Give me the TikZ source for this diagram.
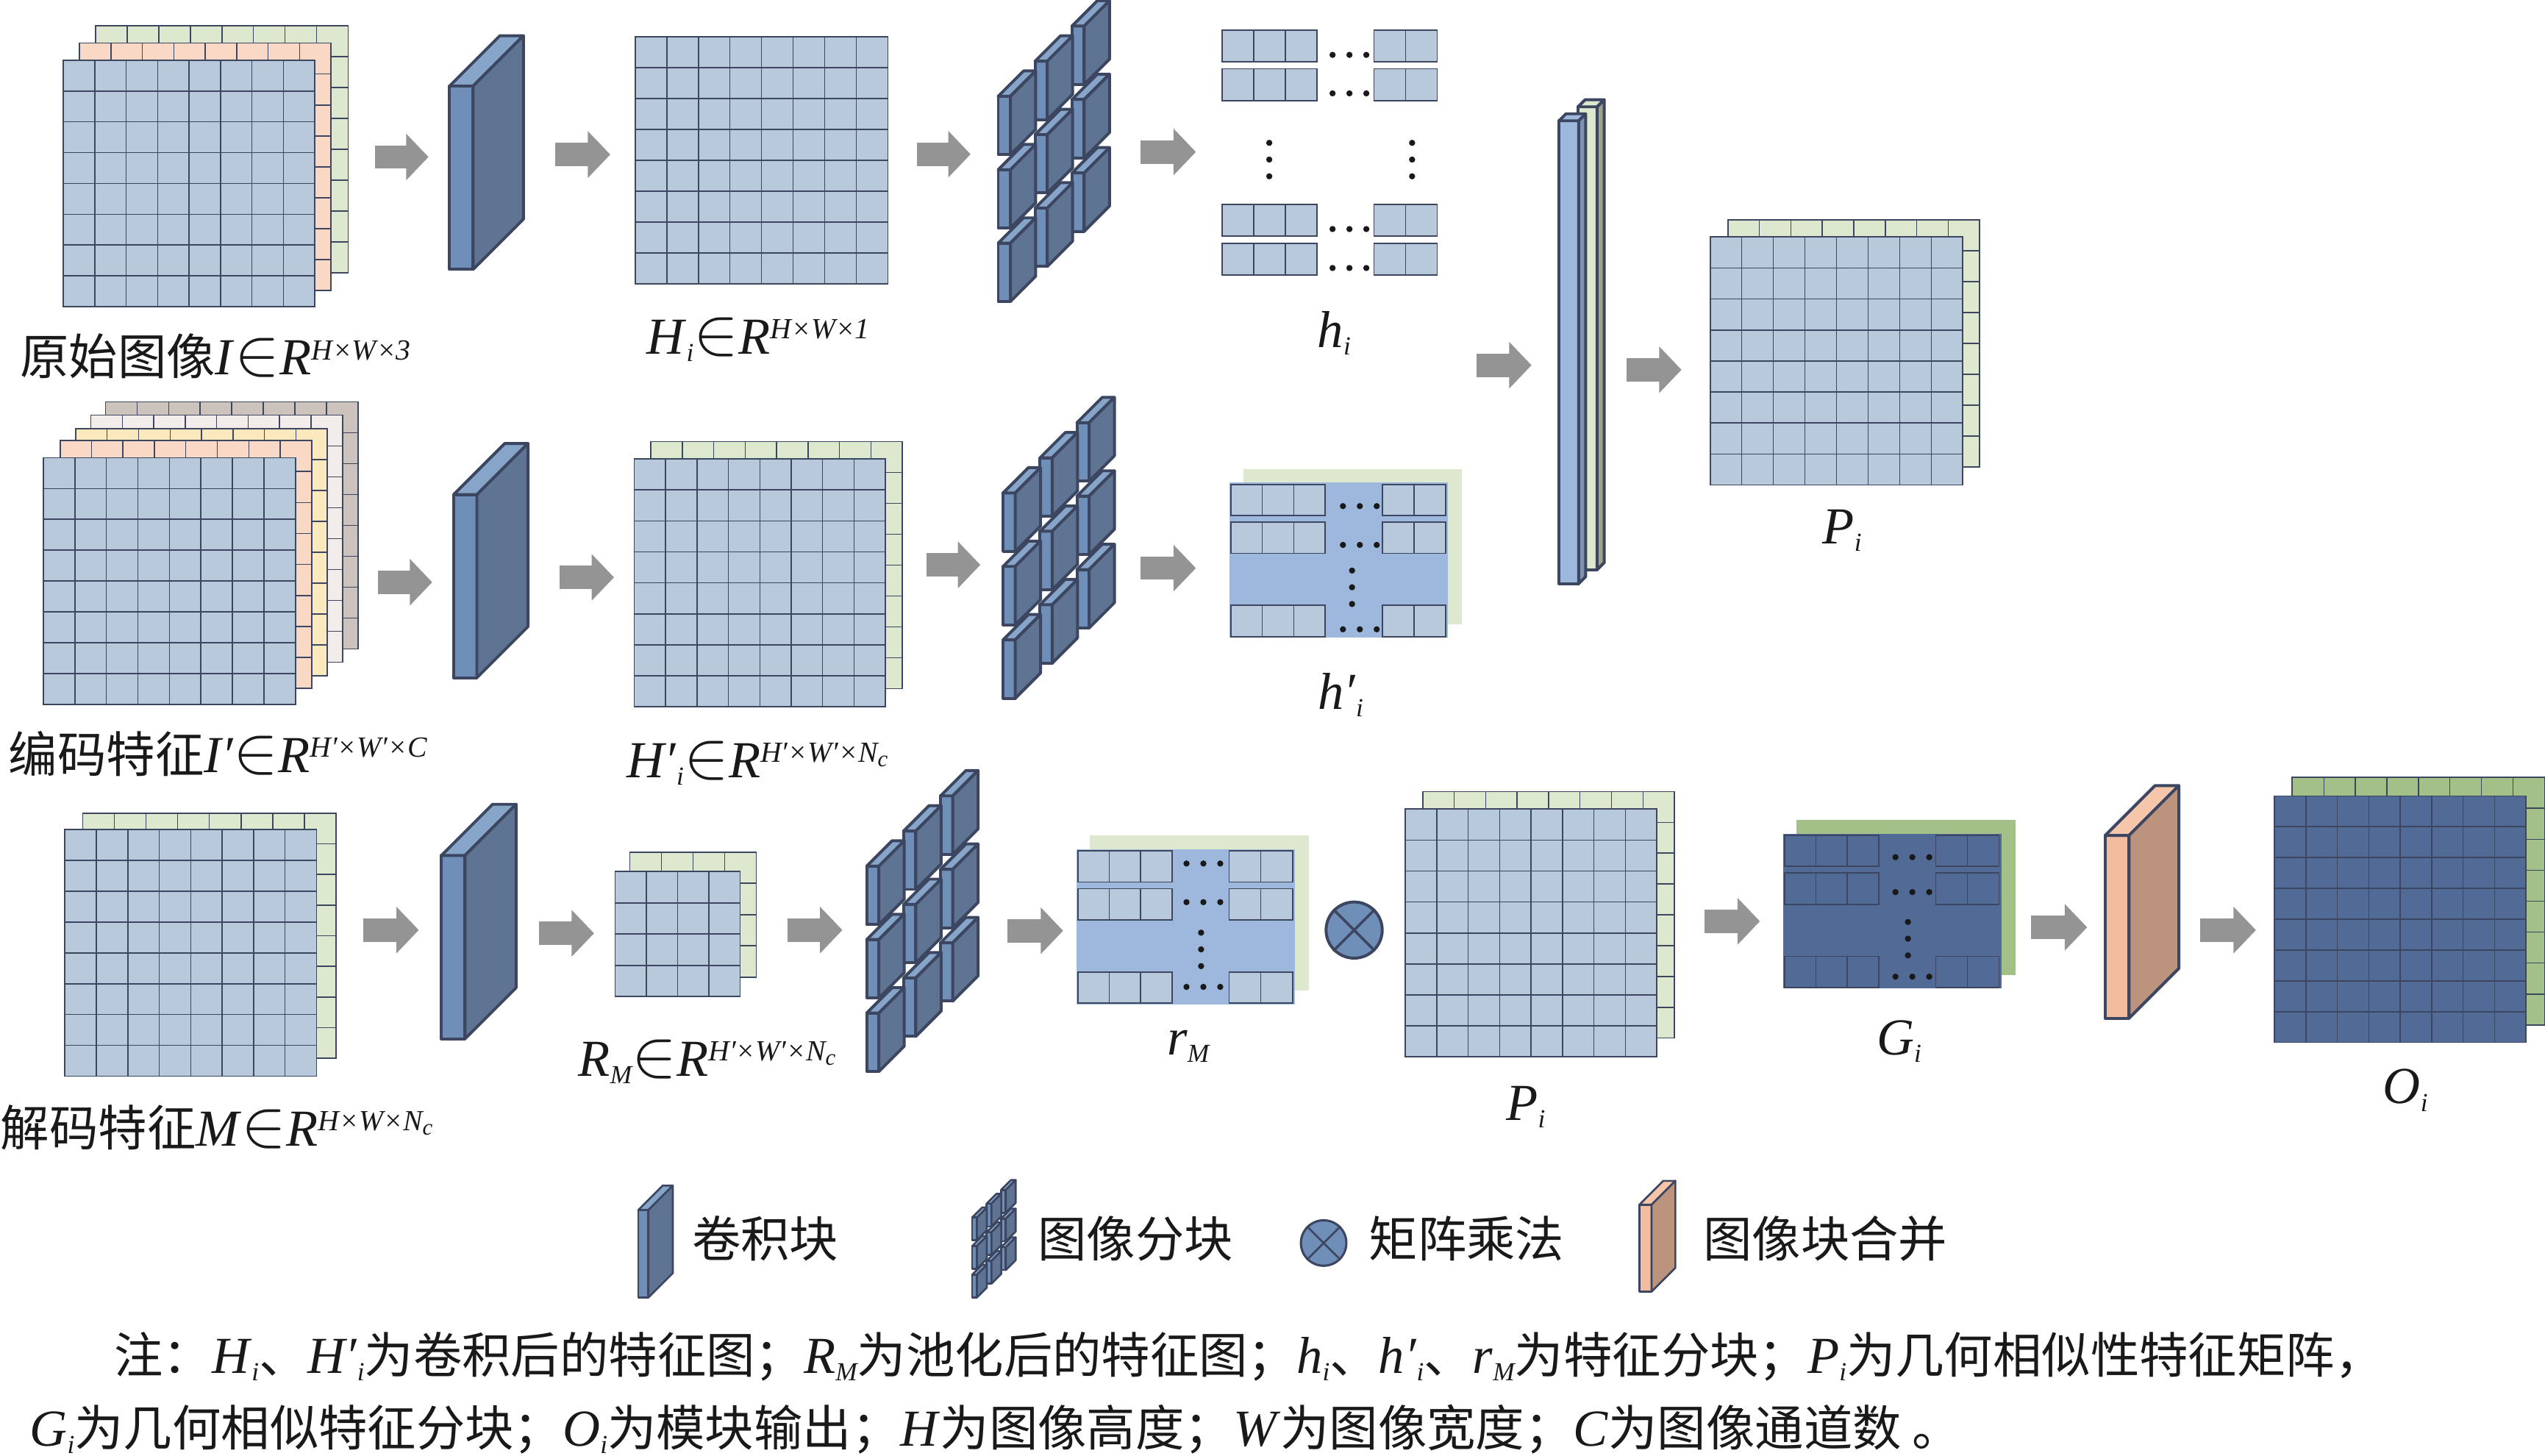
\documentclass[tikz,border=0pt]{standalone}
\usepackage{fontspec}
\setmainfont{Liberation Serif}
\newfontfamily\cjk[Scale=0.94]{Noto Sans CJK SC}
\usetikzlibrary{arrows.meta,calc}
\definecolor{cellblue}{HTML}{B7C9DB}
\definecolor{cellgreen}{HTML}{DEE8CE}
\definecolor{cellorange}{HTML}{F9D8C5}
\definecolor{cellyellow}{HTML}{FBE8BC}
\definecolor{cellwhite}{HTML}{F2EDEA}
\definecolor{celltaupe}{HTML}{CBC3BC}
\definecolor{paneblue}{HTML}{9DB8DC}
\definecolor{navy}{HTML}{526A96}
\definecolor{leaf}{HTML}{A3C088}
\definecolor{edge}{HTML}{3C4660}
\definecolor{cubefront}{HTML}{6F8FB8}
\definecolor{cubetop}{HTML}{87A5C9}
\definecolor{cubeside}{HTML}{5F7392}
\definecolor{peachfront}{HTML}{F2BC9E}
\definecolor{peachtop}{HTML}{F5C6AA}
\definecolor{peachside}{HTML}{BC947E}
\definecolor{arrowgray}{HTML}{949494}
\tikzset{
 cellgrid/.style={anchor=north west,inner sep=0pt,outer sep=0pt,draw=edge,line width=0.4pt},
 colline/.style={draw=edge,line width=0.33pt},
 rowline/.style={draw=edge,line width=0.4pt},
 cubeline/.style={draw=edge,line width=0.9pt,line join=round},
 cubeface/.style={anchor=north west,inner sep=0pt,outer sep=0pt,cubeline},
 flowarrow/.style={draw=arrowgray,line width=7.2pt,-{Triangle[length=6.9pt,width=14pt]}},
 dotmark/.style={fill=black!90},
 txt/.style={inner sep=0pt,font=\fontsize{16}{18}\selectfont,text=black!90},
}
\newcommand\zh[1]{{\cjk #1}}
\newcommand\lowered[1]{\raisebox{-2.3pt}{\fontsize{8}{8}\selectfont\itshape #1}}
\newcommand\ssub[2]{\textit{#1}\lowered{#2}}
\newcommand\rsup[1]{\textit{R}\raisebox{4.7pt}{\fontsize{9}{9}\selectfont\itshape #1}}
\newcommand\bigin{{\fontsize{20}{20}\selectfont$\in$}}
\newcommand\nc{N\raisebox{-1.4pt}{\fontsize{7}{7}\selectfont c}}
% name, left, top, width, height, fill, columns, rows
\newcommand\gridmat[8]{%
 \node[cellgrid,fill=#6,minimum width=#4*0.5pt,minimum height=#5*0.5pt] (#1) at (#2,#3) {};
 \foreach \k in {1,...,#7}
 \draw[colline] ($(#1.north west)!\k/#7!(#1.north east)$) -- ($(#1.south west)!\k/#7!(#1.south east)$);
 \foreach \k in {1,...,#8}
 \draw[rowline] ($(#1.north west)!\k/#8!(#1.south west)$) -- ($(#1.north east)!\k/#8!(#1.south east)$);
}
% name, left, top, width, height, depth, three face colours
\newcommand\cubeblock[9]{%
 \node[cubeface,fill=#7,minimum width=#4*0.5pt,minimum height=#5*0.5pt] (#1) at (#2,#3) {};
 \draw[cubeline,fill=#8] (#1.north west) -- ++(#6,-#6) -- ++(#4,0) -- (#1.north east) -- cycle;
 \draw[cubeline,fill=#9] (#1.north east) -- ++(#6,-#6) -- ++(0,#5) -- (#1.south east) -- cycle;
}
% name, left, top, scale
\newcommand\patchset[4]{%
 \foreach \c in {2,1,0} \foreach \r in {0,1,2} {
 \pgfmathsetmacro\px{#2+#4*22.75*\c}
 \pgfmathsetmacro\py{#3+#4*(45.25*\r-21.65*\c)}
 \pgfmathsetmacro\pw{#4*7.5}
 \pgfmathsetmacro\ph{#4*36}
 \pgfmathsetmacro\pd{#4*15.6}
 \cubeblock{#1-\c-\r}{\px}{\py}{\pw}{\ph}{\pd}{cubefront}{cubetop}{cubeside}
 }
}
% name, left, top, back, front, cells
\newcommand\patchpanel[6]{%
 \node[anchor=north west,inner sep=0pt,fill=#4,minimum width=67.35pt,minimum height=47.75pt] (#1-back) at (#2+8.5,#3-8.5) {};
 \node[anchor=north west,inner sep=0pt,fill=#5,minimum width=67.35pt,minimum height=47.75pt] (#1) at (#2,#3) {};
 \foreach \n/\oy in {a/1.4,b/24.7,c/76} {
 \gridmat{#1-\n l}{#2+1.4}{#3+\oy}{58}{19.2}{#6}{3}{1}
 \gridmat{#1-\n r}{#2+94.6}{#3+\oy}{39}{19.2}{#6}{2}{1}
 }
}
\newcommand\dotrow[2]{\foreach \k in {0,1,2} \fill[dotmark] (#1+10.4*\k,#2) circle (0.95pt);}
\newcommand\dotcol[2]{\foreach \k in {0,1,2} \fill[dotmark] (#1,#2+10.3*\k) circle (0.95pt);}
\begin{document}
\begin{tikzpicture}[x=0.5pt,y=-0.5pt]
 \useasboundingbox (0,0) rectangle (1568,896.6);
 % first row
 \gridmat{inG}{59}{16}{155.5}{152}{cellgreen}{8}{8}
 \gridmat{inO}{49}{26.5}{155}{152.5}{cellorange}{8}{8}
 \gridmat{inB}{39}{37}{155}{152}{cellblue}{8}{8}
 \cubeblock{convA}{277}{53}{14.5}{113}{31}{cubefront}{cubetop}{cubeside}
 \gridmat{hmap}{391.4}{22.6}{155.6}{152.4}{cellblue}{8}{8}
 \patchset{patchA}{615}{59.3}{1}
 \foreach \n/\y in {a/18.7,b/42.4,c/126,d/150} {
 \gridmat{hL\n}{752.8}{\y}{58.6}{19.5}{cellblue}{3}{1}
 \gridmat{hR\n}{846.5}{\y}{39}{19.5}{cellblue}{2}{1}
 \dotrow{821}{\y+15.1}
 }
 \dotcol{782}{88}
 \dotcol{870}{88}
 % merged maps and output of the upper branch
 \cubeblock{mergeG}{972.2}{65.8}{11.8}{285.2}{4.4}{cellgreen}{cellgreen}{black!30!cellgreen}
 \cubeblock{mergeB}{960.5}{74.4}{12.1}{285.2}{4.3}{paneblue}{paneblue}{black!20!paneblue}
 \gridmat{simG}{1064.5}{135.5}{155.2}{152.3}{cellgreen}{8}{8}
 \gridmat{simB}{1053.7}{146}{155.6}{152.8}{cellblue}{8}{8}
 % second row
 \gridmat{encT}{65}{247.6}{155.5}{152.2}{celltaupe}{8}{8}
 \gridmat{encW}{56}{255.7}{155}{152.3}{cellwhite}{8}{8}
 \gridmat{encY}{46.6}{264.2}{155.1}{152.3}{cellyellow}{8}{8}
 \gridmat{encO}{37}{271.5}{155}{152.5}{cellorange}{8}{8}
 \gridmat{encB}{26.7}{282}{155.3}{152}{cellblue}{8}{8}
 \cubeblock{convB}{279.5}{304.7}{14.3}{112.8}{31.5}{cubefront}{cubetop}{cubeside}
 \gridmat{hpG}{401}{272}{155}{152.3}{cellgreen}{8}{8}
 \gridmat{hpB}{390.7}{282.8}{154.8}{152.5}{cellblue}{8}{8}
 \patchset{patchB}{618}{303.7}{1}
 \patchpanel{panelA}{757}{297}{cellgreen}{paneblue}{cellblue}
 \dotrow{827.4}{311.8}
 \dotrow{827.4}{335.7}
 \dotrow{827.4}{387.7}
 \dotcol{833}{351.5}
 % third row
 \gridmat{decG}{51}{501}{156}{151}{cellgreen}{8}{8}
 \gridmat{decB}{40}{511}{155}{152}{cellblue}{8}{8}
 \cubeblock{convC}{272}{527}{14.5}{113}{31.5}{cubefront}{cubetop}{cubeside}
 \gridmat{poolG}{388}{525}{78}{77}{cellgreen}{4}{4}
 \gridmat{poolB}{379}{537}{77}{77}{cellblue}{4}{4}
 \patchset{patchC}{534}{533.6}{1}
 \patchpanel{panelB}{662.7}{522.8}{cellgreen}{paneblue}{cellblue}
 \dotrow{731}{532}
 \dotrow{731}{555.8}
 \dotrow{731}{608}
 \dotcol{740}{574.6}
 \node[circle,draw=edge,line width=0.9pt,fill=cubefront,minimum size=17.3pt,inner sep=0pt] (mult) at (834.3,573) {};
 \draw[edge,line width=0.8pt] (mult.45) -- (mult.225) (mult.135) -- (mult.315);
 \gridmat{pG}{876.6}{487.7}{155}{151.8}{cellgreen}{8}{8}
 \gridmat{pB}{865.8}{498.5}{155}{152.5}{cellblue}{8}{8}
 \patchpanel{panelC}{1098}{513.2}{leaf}{navy}{navy}
 \dotrow{1167.8}{528.1}
 \dotrow{1167.8}{549.6}
 \dotrow{1167.8}{601.7}
 \dotcol{1175.5}{568}
 \cubeblock{mergeC}{1297}{514.7}{14.7}{112.6}{30.7}{peachfront}{peachtop}{peachside}
 \gridmat{outG}{1412.3}{479}{155.4}{152.4}{leaf}{8}{8}
 \gridmat{outB}{1401.3}{490.4}{155}{151.8}{navy}{8}{8}
 % arrows
 \foreach \n/\xa/\xb/\y in {a1/231/264/96.7,a2/342/376/95.2,a3/565/598/95,a4/702.6/736.8/93.6,
 b1/233/266.3/358.7,b2/344.8/378.3/355.7,b3/571/604/348,b4/702.6/736.8/350,
 m1/909.8/943.6/225,m2/1002/1036/227.8,
 c1/224/258/573,c2/332/366/575,c3/485/519/573,c4/620.7/655/573.4,
 c5/1050/1084.3/567.6,c6/1251.3/1285.9/571.3,c7/1355.7/1389.9/573} {
 \coordinate (\n s) at (\xa,\y);
 \coordinate (\n e) at (\xb,\y);
 \draw[flowarrow] (\n s) -- (\n e);
 }
 % labels
 \node[txt,anchor=base west] (lblI) at (12,231) {\zh{原始图像}\textit{I}\bigin\rsup{H×W×3}};
 \node[txt,anchor=base west] (lblH) at (398,218) {\ssub{H}{i}\bigin\rsup{H×W×1}};
 \node[txt,anchor=base] (lblh) at (822,214) {\ssub{h}{i}};
 \node[txt,anchor=base] (lblP) at (1135,335) {\ssub{P}{i}};
 \node[txt,anchor=base west] (lblE) at (5,476) {\zh{编码特征}\textit{I′}\bigin\rsup{H′×W′×C}};
 \node[txt,anchor=base west] (lblHp) at (386,479) {\ssub{H′}{i}\bigin\rsup{H′×W′×\nc}};
 \node[txt,anchor=base] (lblhp) at (826,437) {\ssub{h′}{i}};
 \node[txt,anchor=base west] (lblM) at (0,706) {\zh{解码特征}\textit{M}\bigin\rsup{H×W×\nc}};
 \node[txt,anchor=base west] (lblR) at (356,663) {\ssub{R}{M}\bigin\rsup{H′×W′×\nc}};
 \node[txt,anchor=base] (lblr) at (732,650) {\ssub{r}{M}};
 \node[txt,anchor=base] (lblP2) at (940,690) {\ssub{P}{i}};
 \node[txt,anchor=base] (lblG) at (1170,650) {\ssub{G}{i}};
 \node[txt,anchor=base] (lblO) at (1482,680) {\ssub{O}{i}};
 % legend
 \begin{scope}[cubeline/.style={draw=edge,line width=0.6pt,line join=round}]
 \cubeblock{keyConv}{393.3}{745.4}{6.2}{54}{15}{cubefront}{cubetop}{cubeside}
 \patchset{keyPatch}{599}{750}{0.39}
 \cubeblock{keyMerge}{1010}{742.2}{7.5}{53.6}{14.7}{peachfront}{peachtop}{peachside}
 \end{scope}
 \node[circle,draw=edge,line width=0.7pt,fill=cubefront,minimum size=14pt,inner sep=0pt] (keyMult) at (815.5,765.8) {};
 \draw[edge,line width=0.6pt] (keyMult.45) -- (keyMult.225) (keyMult.135) -- (keyMult.315);
 \node[txt,anchor=west] (keyA) at (426,763) {\zh{卷积块}};
 \node[txt,anchor=west] (keyB) at (639,763) {\zh{图像分块}};
 \node[txt,anchor=west] (keyC) at (843,763) {\zh{矩阵乘法}};
 \node[txt,anchor=west] (keyD) at (1049,763) {\zh{图像块合并}};
 % note
 \node[txt,anchor=base west] (noteA) at (70,846) {\zh{注：}\ssub{H}{i}\zh{、}\ssub{H′}{i}\zh{为卷积后的特征图；}\ssub{R}{M}\zh{为池化后的特征图；}\ssub{h}{i}\zh{、}\ssub{h′}{i}\zh{、}\ssub{r}{M}\zh{为特征分块；}\ssub{P}{i}\zh{为几何相似性特征矩阵，}};
 \node[txt,anchor=base west] (noteB) at (18,891) {\ssub{G}{i}\zh{为几何相似特征分块；}\ssub{O}{i}\zh{为模块输出；}\textit{H}\zh{为图像高度；}\textit{W}\zh{为图像宽度；}\textit{C}\zh{为图像通道数 。}};
\end{tikzpicture}
\end{document}
